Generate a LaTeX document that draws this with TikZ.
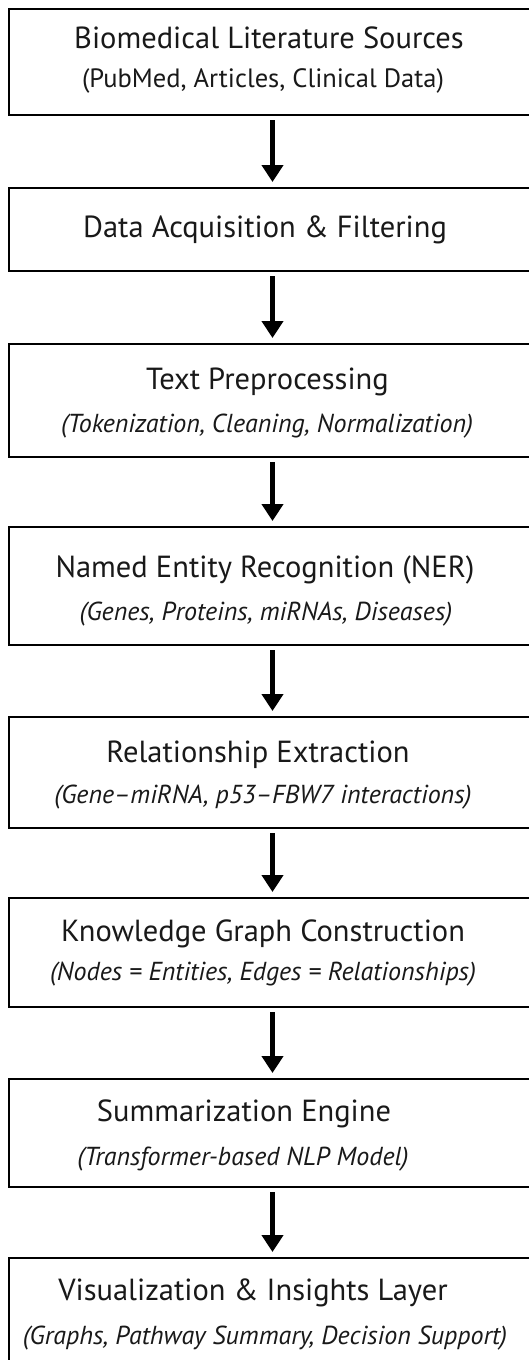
\documentclass[tikz,border=0pt]{standalone}
\usepackage{fontspec}
\setmainfont{PT Sans}
\usetikzlibrary{arrows.meta}
\tikzset{
  stage/.style={draw=black, line width=2pt, fill=white, minimum width=527pt, inner sep=0pt, outer sep=0pt},
  ttl/.style={anchor=base, inner sep=0pt, font=\fontsize{30.5}{34}\selectfont, text=black!90},
  sub/.style={anchor=base, inner sep=0pt, font=\fontsize{26}{30}\selectfont\itshape, text=black!90},
  subup/.style={anchor=base, inner sep=0pt, font=\fontsize{26.5}{30}\selectfont, text=black!90},
  flow/.style={-{Triangle[width=21pt,length=17pt]}, line width=5pt, shorten <=5pt, shorten >=6pt}
}
\begin{document}
\begin{tikzpicture}[x=1pt,y=-1pt]
\useasboundingbox (0,0) rectangle (529,1360);
\clip (0,0) rectangle (529,1360);
\node[stage, minimum height=106pt] (b1) at (272.5,62) {};
\node[stage, minimum height=83pt]  (b2) at (272.5,229.5) {};
\node[stage, minimum height=113pt] (b3) at (272.5,400.5) {};
\node[stage, minimum height=118pt] (b4) at (272.5,586) {};
\node[stage, minimum height=111pt] (b5) at (272.5,772.5) {};
\node[stage, minimum height=109pt] (b6) at (272.5,952.5) {};
\node[stage, minimum height=108pt] (b7) at (272.5,1133) {};
\node[stage, minimum height=112pt] (b8) at (272.5,1314) {};

\node[ttl] (t1) at (269,48) {Biomedical Literature Sources};
\node[subup] (s1) at (263,87) {(PubMed, Articles, Clinical Data)};
\node[ttl] (t2) at (265,237.5) {Data Acquisition \& Filtering};
\node[ttl] (t3) at (267.5,389) {Text Preprocessing};
\node[sub] (s3) at (267,432) {(Tokenization, Cleaning, Normalization)};
\node[ttl] (t4) at (265,577) {Named Entity Recognition (NER)};
\node[sub] (s4) at (266,620) {(Genes, Proteins, miRNAs, Diseases)};
\node[ttl] (t5) at (258,762) {Relationship Extraction};
\node[sub] (s5) at (263,803) {(Gene–miRNA, p53–FBW7 interactions)};
\node[ttl] (t6) at (263,941) {Knowledge Graph Construction};
\node[sub] (s6) at (263,980) {(Nodes = Entities, Edges = Relationships)};
\node[ttl] (t7) at (244,1121) {Summarization Engine};
\node[sub] (s7) at (243,1165) {(Transformer-based NLP Model)};
\node[ttl] (t8) at (253,1300) {Visualization \& Insights Layer};
\node[sub] (s8) at (265,1344) {(Graphs, Pathway Summary, Decision Support)};

\draw[flow] (b1.south) -- (b2.north);
\draw[flow] (b2.south) -- (b3.north);
\draw[flow] (b3.south) -- (b4.north);
\draw[flow] (b4.south) -- (b5.north);
\draw[flow] (b5.south) -- (b6.north);
\draw[flow] (b6.south) -- (b7.north);
\draw[flow] (b7.south) -- (b8.north);
\end{tikzpicture}
\end{document}
